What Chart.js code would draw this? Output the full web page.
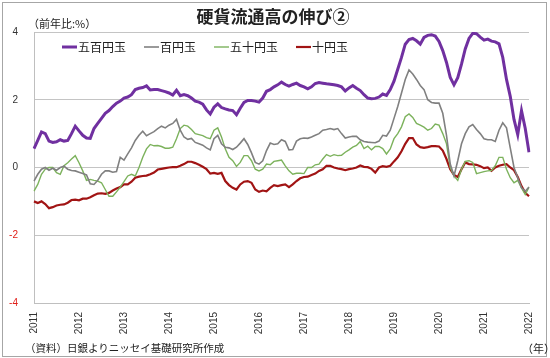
<!DOCTYPE html>
<html lang="ja">
<head>
    <meta charset="UTF-8">
    <title>硬貨流通高の伸び②</title>
    <script src="https://cdn.jsdelivr.net/npm/chart.js@4"></script>
    <style>
        body {
            margin: 0;
            background: #fff;
            font-family: "Noto Sans CJK JP", sans-serif;
        }
        .wrap {
            position: relative;
            width: 550px;
            height: 358px;
        }
        .frame {
            position: absolute;
            left: 2px;
            top: 2px;
            width: 543px;
            height: 353px;
            border: 1px solid #a6a6a6;
        }
        canvas {
            position: absolute;
            left: 0;
            top: 0;
        }
        .txt {
            position: absolute;
            color: #222;
            white-space: nowrap;
        }
        #title {
            left: 0;
            width: 546px;
            top: 4px;
            text-align: center;
            font-size: 17px;
            font-weight: bold;
            line-height: 24px;
        }
        #unit { left: 28px; top: 15px; font-size: 11px; line-height: 16px; }
        #note { left: 25px; top: 340px; font-size: 10.5px; line-height: 16px; }
        #nen  { left: 522px; top: 340px; font-size: 11px; line-height: 16px; }
    </style>
</head>
<body>
<div class="wrap">
    <div class="frame"></div>
    <canvas id="chart" width="550" height="358"></canvas>
    <div class="txt" id="title">硬貨流通高の伸び②</div>
    <div class="txt" id="unit">（前年比:%）</div>
    <div class="txt" id="note">（資料）日銀よりニッセイ基礎研究所作成</div>
    <div class="txt" id="nen">（年）</div>
</div>

<script>
    // monthly, Jan 2011 .. Jan 2022
    const years = [2011, 2012, 2013, 2014, 2015, 2016, 2017, 2018, 2019, 2020, 2021, 2022];
    const seriesNames = ['五百円玉', '百円玉', '五十円玉', '十円玉'];
    const yTicks = [-4, -2, 0, 2, 4];

    const yen500 = [
        0.56, 0.80, 1.05, 1.00, 0.78, 0.74, 0.76, 0.82, 0.78, 0.80, 1.00, 1.22,
        1.08, 0.95, 0.87, 0.86, 1.15, 1.30, 1.45, 1.60, 1.68, 1.80, 1.90, 1.96,
        2.05, 2.08, 2.15, 2.30, 2.34, 2.36, 2.41, 2.29, 2.30, 2.30, 2.27, 2.24,
        2.20, 2.14, 2.28, 2.12, 2.15, 2.12, 2.05, 1.96, 1.93, 1.87, 1.70, 1.58,
        1.78, 1.88, 1.77, 1.73, 1.70, 1.68, 1.56, 1.75, 1.92, 1.98, 1.98, 1.96,
        1.93, 2.05, 2.25, 2.30, 2.38, 2.44, 2.52, 2.45, 2.40, 2.45, 2.49, 2.42,
        2.38, 2.32, 2.38, 2.48, 2.51, 2.49, 2.47, 2.46, 2.44, 2.42, 2.38, 2.26,
        2.35, 2.42, 2.34, 2.27, 2.15, 2.05, 2.03, 2.04, 2.08, 2.17, 2.13, 2.30,
        2.55, 2.90, 3.25, 3.64, 3.78, 3.81, 3.74, 3.64, 3.84, 3.90, 3.92, 3.88,
        3.72, 3.45, 3.10, 2.66, 2.44, 2.65, 3.05, 3.50, 3.81, 3.96, 3.95, 3.85,
        3.76, 3.79, 3.73, 3.71, 3.65, 3.25, 2.60, 2.10, 1.42, 0.97, 1.68, 1.15,
        0.45
    ];
    const yen100 = [
        -0.40, -0.20, -0.05, 0.00, -0.08, -0.02, -0.08, 0.00, 0.04, -0.05, -0.09, -0.10,
        -0.14, -0.18, -0.22, -0.48, -0.50, -0.38, -0.20, -0.10, -0.10, -0.14, -0.12, 0.30,
        0.22, 0.40, 0.58, 0.80, 0.95, 1.07, 0.94, 1.00, 1.06, 1.15, 1.22, 1.17,
        1.25, 1.30, 1.42, 1.10, 0.90, 0.83, 0.86, 0.74, 0.70, 0.66, 0.58, 0.52,
        0.85, 0.95, 0.70, 0.60, 0.58, 0.53, 0.60, 0.72, 0.85, 0.68, 0.43, 0.15,
        0.10, 0.20, 0.50, 0.72, 0.68, 0.70, 0.82, 0.77, 0.52, 0.53, 0.78, 0.85,
        0.87, 0.86, 0.90, 0.95, 1.00, 1.10, 1.12, 1.15, 1.12, 1.15, 1.00, 0.87,
        0.90, 0.92, 0.92, 0.82, 0.77, 0.75, 0.74, 0.73, 0.78, 0.95, 0.93, 1.10,
        1.45, 1.80, 2.20, 2.60, 2.88, 2.76, 2.60, 2.42, 2.30, 2.00, 1.92, 1.90,
        1.90, 1.60, 0.95, 0.10, -0.25, 0.20, 0.70, 1.00, 1.20, 1.27, 1.12, 1.00,
        0.85, 0.82, 0.82, 0.77, 1.10, 1.32, 1.17, 0.58, 0.00, -0.30, -0.60, -0.70,
        -0.58
    ];
    const yen50 = [
        -0.70, -0.50, -0.20, -0.05, 0.00, 0.00, -0.15, -0.20, 0.05, 0.14, 0.25, 0.35,
        0.14, -0.10, -0.38, -0.35, -0.38, -0.40, -0.45, -0.65, -0.85, -0.85, -0.72, -0.58,
        -0.42, -0.25, -0.20, -0.25, 0.00, 0.30, 0.55, 0.68, 0.64, 0.65, 0.62, 0.57,
        0.57, 0.60, 0.85, 1.15, 1.25, 1.22, 1.12, 1.00, 0.97, 0.94, 0.88, 0.85,
        1.10, 1.17, 0.90, 0.55, 0.30, 0.20, 0.03, 0.15, 0.35, 0.35, 0.20, -0.05,
        -0.10, -0.05, 0.10, 0.08, 0.18, 0.20, 0.22, 0.05, -0.10, -0.20, -0.17, -0.17,
        -0.18, 0.00, 0.00, 0.08, 0.10, 0.25, 0.38, 0.33, 0.38, 0.35, 0.36, 0.45,
        0.52, 0.60, 0.65, 0.77, 0.56, 0.63, 0.52, 0.62, 0.62, 0.56, 0.40, 0.55,
        0.85, 1.00, 1.20, 1.50, 1.58, 1.48, 1.30, 1.25, 1.19, 1.10, 1.15, 1.28,
        1.25, 1.00, 0.70, 0.00, -0.25, -0.38, -0.05, 0.18, 0.20, 0.15, -0.18, -0.15,
        -0.12, -0.10, -0.09, 0.05, 0.30, 0.30, -0.05, -0.30, -0.45, -0.38, -0.60, -0.80,
        -0.58
    ];
    const yen10 = [
        -1.00, -1.05, -1.00, -1.08, -1.20, -1.17, -1.12, -1.10, -1.09, -1.04, -0.96, -0.95,
        -0.97, -0.92, -0.92, -0.88, -0.82, -0.77, -0.76, -0.78, -0.75, -0.68, -0.62, -0.58,
        -0.50, -0.50, -0.42, -0.30, -0.27, -0.25, -0.24, -0.20, -0.15, -0.06, -0.04, -0.02,
        0.00, 0.01, 0.01, 0.05, 0.10, 0.17, 0.17, 0.13, 0.08, 0.02, -0.05, -0.18,
        -0.16, -0.19, -0.16, -0.40, -0.52, -0.60, -0.65, -0.50, -0.42, -0.40, -0.45, -0.65,
        -0.72, -0.68, -0.70, -0.60, -0.52, -0.55, -0.52, -0.50, -0.58, -0.50, -0.40, -0.32,
        -0.28, -0.27, -0.22, -0.18, -0.10, -0.05, 0.05, 0.05, 0.00, -0.03, -0.05, -0.08,
        -0.05, -0.03, 0.00, 0.06, 0.02, 0.01, -0.04, -0.15, 0.00, 0.04, 0.02, 0.05,
        0.18, 0.30, 0.48, 0.70, 0.87, 0.87, 0.68, 0.60, 0.58, 0.60, 0.63, 0.63,
        0.62, 0.50, 0.25, -0.05, -0.22, -0.28, -0.05, 0.15, 0.10, 0.09, 0.08, 0.04,
        -0.02, 0.00, -0.10, 0.00, 0.05, 0.08, 0.10, 0.00, -0.08, -0.28, -0.55, -0.75,
        -0.85
    ];

    const colors = ['#7030a0', '#808080', '#7cb25c', '#a11414'];
    const widths = [3, 1.6, 1.4, 2.2];

    // month labels
    const labels = [];
    years.forEach(y => {
        for (let m = 1; m <= 12; m++) {
            if (labels.length < yen500.length) labels.push(y + '/' + m);
        }
    });

    // legend drawn inside the plot, one row
    const insideLegend = {
        id: 'insideLegend',
        afterDraw(chart) {
            const c = chart.ctx;
            const area = chart.chartArea;
            let x = area.left + 28;
            const y = area.top + 15;
            c.save();
            c.font = '12px "Noto Sans CJK JP"';
            c.textBaseline = 'middle';
            chart.data.datasets.forEach(ds => {
                c.strokeStyle = ds.borderColor;
                c.lineWidth = ds.borderWidth;
                c.beginPath();
                c.moveTo(x, y);
                c.lineTo(x + 15, y);
                c.stroke();
                c.fillStyle = '#222';
                c.fillText(ds.label, x + 16, y);
                x += 16 + c.measureText(ds.label).width + 18;
            });
            c.restore();
        }
    };

    const allData = [yen500, yen100, yen50, yen10];
    const ctx = document.getElementById('chart').getContext('2d');
    new Chart(ctx, {
        type: 'line',
        data: {
            labels: labels,
            datasets: seriesNames.map((name, i) => ({
                label: name,
                data: allData[i],
                borderColor: colors[i],
                borderWidth: widths[i],
                pointRadius: 0,
                tension: 0,
                fill: false
            }))
        },
        options: {
            responsive: false,
            animation: false,
            layout: { padding: { top: 32, right: 16, left: 0, bottom: 0 } },
            plugins: {
                legend: { display: false },
                tooltip: { enabled: false }
            },
            scales: {
                x: {
                    offset: false,
                    grid: { display: false, drawTicks: false },
                    border: { color: '#bfbfbf' },
                    afterFit: s => { s.height = 55; },
                    ticks: {
                        autoSkip: false,
                        maxRotation: 90,
                        minRotation: 90,
                        padding: 9,
                        color: '#333',
                        font: { family: 'Liberation Sans', size: 10 },
                        callback: (v, i) => i % 12 === 0 ? years[i / 12] : ''
                    }
                },
                y: {
                    min: -4,
                    max: 4,
                    afterFit: s => { s.width = 34; },
                    afterBuildTicks: s => { s.ticks = yTicks.map(v => ({ value: v })); },
                    grid: { color: '#c4c4c4', drawTicks: false },
                    border: { color: '#bfbfbf' },
                    ticks: {
                        padding: 16,
                        font: { family: 'Liberation Sans', size: 10 },
                        color: c => c.tick && c.tick.value < 0 ? '#e0201a' : '#333'
                    }
                }
            }
        },
        plugins: [insideLegend]
    });
</script>
</body>
</html>
